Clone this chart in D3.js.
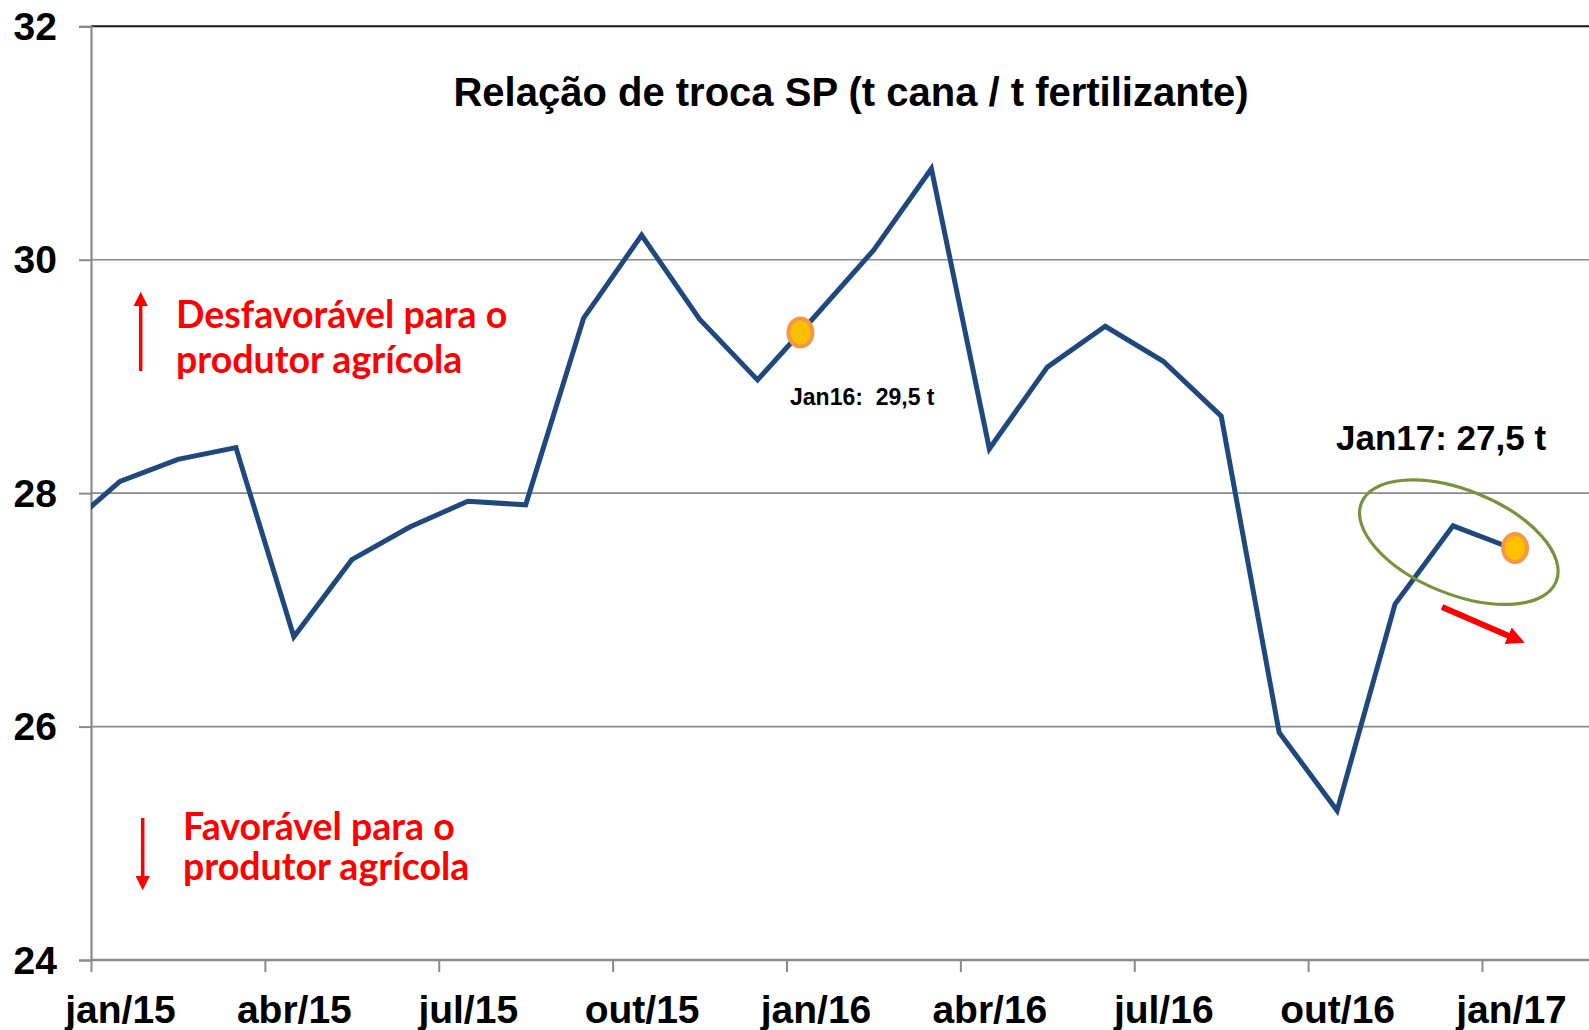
<!DOCTYPE html>
<html>
<head>
<meta charset="utf-8">
<script src="https://cdn.jsdelivr.net/npm/d3@7"></script>
<style>
  body { margin: 0; background: #fff; }
  svg { display: block; }
</style>
</head>
<body>
<svg id="chart"></svg>
<script>
// monthly series, dez/14 .. jan/17 (dez/14 sits left of the axis and is clipped)
const months = ['dez/14', 'jan/15', 'fev/15', 'mar/15', 'abr/15', 'mai/15', 'jun/15', 'jul/15', 'ago/15', 'set/15', 'out/15', 'nov/15', 'dez/15',
  'jan/16', 'fev/16', 'mar/16', 'abr/16', 'mai/16', 'jun/16', 'jul/16', 'ago/16', 'set/16', 'out/16', 'nov/16', 'dez/16', 'jan/17'];
const values = [27.67, 28.10, 28.29, 28.39, 26.77, 27.43, 27.71, 27.93, 27.90, 29.50, 30.21, 29.49, 28.97,
  29.52, 30.08, 30.78, 28.38, 29.08, 29.43, 29.13, 28.66, 25.95, 25.28, 27.05, 27.72, 27.53];
const yTicks = [24, 26, 28, 30, 32];
const xTickLabels = ['jan/15', 'abr/15', 'jul/15', 'out/15', 'jan/16', 'abr/16', 'jul/16', 'out/16', 'jan/17'];
const title = 'Relação de troca SP (t cana / t fertilizante)';
const upText = ['Desfavorável para o', 'produtor agrícola'];
const downText = ['Favorável para o', 'produtor agrícola'];

let width = 1589;
let height = 1030;
let padLeft = 91, padTop = 26.3, axisY = 960;

const svg = d3.select('#chart').attr('width', width).attr('height', height);

// x in months from the start of jan/15, y in t cana / t fertilizante
const xScale = d3.scaleLinear().domain([0, 24]).range([padLeft, 1482]);
const yScale = d3.scaleLinear().domain([24, 32]).range([axisY, padTop]);
const monthW = xScale(1) - xScale(0);

const data = values.map((v, i) => ({ m: i - 1, v: v, label: months[i] }));

const defs = svg.append('defs');
defs.append('clipPath').attr('id', 'plot')
  .append('rect').attr('x', padLeft).attr('y', 0).attr('width', width - padLeft).attr('height', axisY);

defs.append('marker').attr('id', 'headSmall').attr('viewBox', '0 0 10 10')
  .attr('refX', 1).attr('refY', 5).attr('markerWidth', 4.2).attr('markerHeight', 4.4)
  .attr('markerUnits', 'strokeWidth').attr('orient', 'auto')
  .append('path').attr('d', 'M0,0 L10,5 L0,10 Z').attr('fill', '#ff0000');
defs.append('marker').attr('id', 'headBig').attr('viewBox', '0 0 10 10')
  .attr('refX', 0.5).attr('refY', 5).attr('markerWidth', 3).attr('markerHeight', 3.4)
  .attr('markerUnits', 'strokeWidth').attr('orient', 'auto')
  .append('path').attr('d', 'M0,0 L10,5 L0,10 Z').attr('fill', '#ff0000');

// gridlines
svg.append('g').selectAll('line').data(yTicks.filter(d => d > 24)).enter().append('line')
  .attr('x1', padLeft).attr('x2', width)
  .attr('y1', d => yScale(d)).attr('y2', d => yScale(d))
  .attr('stroke', d => d === 32 ? '#1a1a1a' : '#8a8a8a')
  .attr('stroke-width', d => d === 32 ? 2 : 1.6);

// y axis
const yAxis = d3.axisLeft(yScale).tickValues(yTicks).tickSize(12).tickPadding(22).tickFormat(d3.format('d'));
const gy = svg.append('g').attr('transform', 'translate(' + padLeft + ',0)').call(yAxis);
gy.select('.domain').attr('stroke', '#8a8a8a').attr('stroke-width', 2.2);
gy.selectAll('.tick line').attr('stroke', '#8a8a8a').attr('stroke-width', 2);
gy.selectAll('.tick text').attr('font-family', 'Liberation Sans, Arial, sans-serif')
  .attr('font-weight', 'bold').attr('font-size', 39).attr('fill', '#000').attr('dy', '0.34em');

// x axis: ticks every 3 months, labels centred in the month
const xAxis = d3.axisBottom(xScale).tickValues(d3.range(0, 25, 3)).tickSize(12).tickSizeOuter(0)
  .tickFormat((d, i) => xTickLabels[i]);
const gx = svg.append('g').attr('transform', 'translate(0,' + axisY + ')').call(xAxis);
gx.select('.domain').attr('d', 'M' + padLeft + ',0H' + width).attr('stroke', '#8a8a8a').attr('stroke-width', 2.6);
gx.selectAll('.tick line').attr('stroke', '#8a8a8a').attr('stroke-width', 2);
gx.selectAll('.tick text').attr('x', monthW / 2).attr('y', 63).attr('dy', 0)
  .attr('font-family', 'Liberation Sans, Arial, sans-serif')
  .attr('font-weight', 'bold').attr('font-size', 39).attr('fill', '#000');

// series line
const line = d3.line().x(d => xScale(d.m + 0.5)).y(d => yScale(d.v));
svg.append('path').datum(data).attr('clip-path', 'url(#plot)')
  .attr('d', line).attr('fill', 'none')
  .attr('stroke', '#1f497d').attr('stroke-width', 5).attr('stroke-linejoin', 'miter');

// title
svg.append('text').attr('x', 851).attr('y', 106).attr('text-anchor', 'middle')
  .attr('font-family', 'Liberation Sans, Arial, sans-serif').attr('font-weight', 'bold')
  .attr('font-size', 40).attr('fill', '#000').text(title);

// jan16 marker, placed on the line a little before the jan/16 vertex
const d15 = data[12], d16 = data[13];
const mPos = 12.24, t = mPos - (d15.m + 0.5);
const mVal = d15.v + (d16.v - d15.v) * t;
const markers = [{ m: mPos, v: mVal }, { m: data[25].m + 0.57, v: data[25].v }];

// jan17 highlight ellipse
svg.append('ellipse')
  .attr('transform', 'translate(' + xScale(23.6) + ',' + yScale(27.58) + ') rotate(22)')
  .attr('rx', 105).attr('ry', 52).attr('fill', 'none')
  .attr('stroke', '#77933c').attr('stroke-width', 3.2);

svg.append('g').selectAll('ellipse').data(markers).enter().append('ellipse')
  .attr('cx', d => xScale(d.m)).attr('cy', d => yScale(d.v))
  .attr('rx', 12).attr('ry', 14)
  .attr('fill', '#ffc000').attr('stroke', '#f79646').attr('stroke-width', 4);

svg.append('text').attr('x', 790).attr('y', 405)
  .style('white-space', 'pre')
  .attr('font-family', 'Liberation Sans, Arial, sans-serif').attr('font-weight', 'bold')
  .attr('font-size', 23).attr('fill', '#000').text('Jan16:  29,5 t');

svg.append('text').attr('x', 1336).attr('y', 450)
  .attr('font-family', 'Liberation Sans, Arial, sans-serif').attr('font-weight', 'bold')
  .attr('font-size', 35).attr('fill', '#000').text('Jan17: 27,5 t');

// red down-trend arrow
svg.append('line').attr('x1', 1442).attr('y1', 607).attr('x2', 1509).attr('y2', 636)
  .attr('stroke', '#ff0000').attr('stroke-width', 6).attr('marker-end', 'url(#headBig)');

// direction arrows and notes
svg.append('line').attr('x1', 140.7).attr('y1', 371).attr('x2', 140.7).attr('y2', 305)
  .attr('stroke', '#ff0000').attr('stroke-width', 3.5).attr('marker-end', 'url(#headSmall)');
svg.append('line').attr('x1', 142.7).attr('y1', 818).attr('x2', 142.7).attr('y2', 877)
  .attr('stroke', '#ff0000').attr('stroke-width', 3.5).attr('marker-end', 'url(#headSmall)');

const note = (lines, x, y0, gap) => {
  svg.append('g').selectAll('text').data(lines).enter().append('text')
    .attr('x', x).attr('y', (d, i) => y0 + i * gap)
    .attr('font-family', 'Lato, Open Sans, sans-serif').attr('font-weight', 'bold')
    .attr('font-size', 37.5).attr('fill', '#ff0000').text(d => d);
};
note(upText, 176, 328, 45);
note(downText, 183, 840, 40);
</script>
</body>
</html>
